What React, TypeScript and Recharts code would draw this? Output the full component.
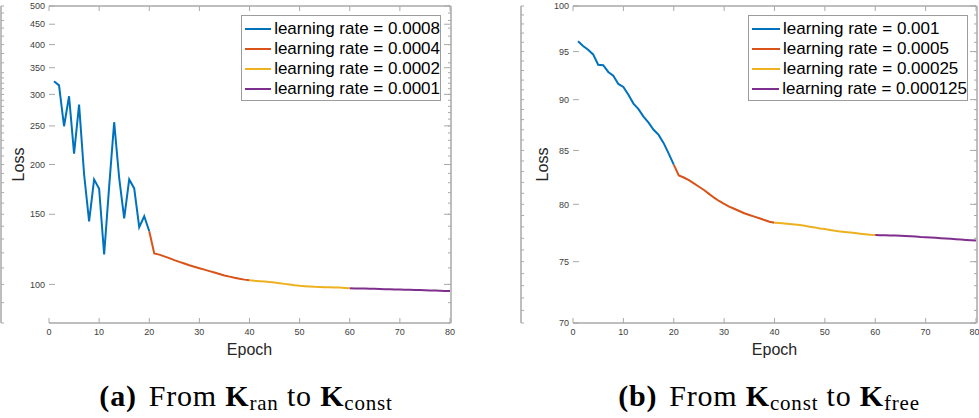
import React from 'react';
import { LineChart, Line, XAxis, YAxis, Legend, Label } from 'recharts';

// epochs and tick marks
const epochTicks = [0, 10, 20, 30, 40, 50, 60, 70, 80];
const lossTicksA = [100, 150, 200, 250, 300, 350, 400, 450, 500];
const lossTicksB = [70, 75, 80, 85, 90, 95, 100];

// (a) From K_ran to K_const  (log y axis)
const namesA = ['learning rate = 0.0008', 'learning rate = 0.0004', 'learning rate = 0.0002', 'learning rate = 0.0001'];
const lossA_lr0008 = [323.6, 316, 249.5, 296.7, 213, 282.8, 189, 144, 183.5, 173.9, 118.9, 176, 255.4, 185, 146.4, 183.5, 174.2, 139.2, 148.3, 136.0]; // epochs 1-20
const lossA_lr0004 = [136.0, 119.6, 118.8, 117.6, 116.4, 115.1, 113.9, 112.8, 111.7, 110.7, 109.8, 108.9, 108.0, 107.1, 106.2, 105.3, 104.6, 103.9, 103.3, 102.8, 102.4]; // epochs 20-40
const lossA_lr0002 = [102.4, 102.1, 101.9, 101.7, 101.4, 101.1, 100.7, 100.3, 99.9, 99.5, 99.2, 99.0, 98.8, 98.6, 98.5, 98.4, 98.3, 98.25, 98.2, 98.0, 97.8]; // epochs 40-60
const lossA_lr0001 = [97.8, 97.7, 97.65, 97.6, 97.5, 97.45, 97.4, 97.3, 97.25, 97.15, 97.05, 97.0, 96.9, 96.85, 96.8, 96.7, 96.6, 96.5, 96.4, 96.3, 96.2]; // epochs 60-80

// (b) From K_const to K_free  (log y axis)
const namesB = ['learning rate = 0.001', 'learning rate = 0.0005', 'learning rate = 0.00025', 'learning rate = 0.000125'];
const lossB_lr001 = [96.1, 95.6, 95.2, 94.7, 93.6, 93.55, 92.85, 92.45, 91.6, 91.3, 90.5, 89.6, 89.05, 88.3, 87.7, 87.0, 86.5, 85.7, 84.7, 83.65]; // epochs 1-20
const lossB_lr0005 = [83.65, 82.65, 82.45, 82.2, 81.9, 81.6, 81.3, 80.95, 80.6, 80.3, 80.05, 79.8, 79.6, 79.4, 79.2, 79.05, 78.9, 78.75, 78.6, 78.45, 78.35]; // epochs 20-40
const lossB_lr00025 = [78.35, 78.33, 78.3, 78.25, 78.2, 78.15, 78.1, 78.0, 77.95, 77.85, 77.8, 77.72, 77.65, 77.6, 77.55, 77.5, 77.45, 77.4, 77.35, 77.3, 77.28]; // epochs 40-60
const lossB_lr000125 = [77.28, 77.27, 77.26, 77.25, 77.24, 77.22, 77.2, 77.18, 77.15, 77.12, 77.1, 77.07, 77.04, 77.01, 76.98, 76.95, 76.92, 76.89, 76.86, 76.83, 76.8]; // epochs 60-80

const segmentStarts = [1, 20, 40, 60];
const colors = ['#0072BD', '#D95319', '#EDB120', '#7E2F8E'];

const range = (a: number, b: number, step: number) => {
    const out: number[] = [];
    for (let v = a; v <= b; v += step) out.push(v);
    return out;
};
const minorTicksA = range(80, 500, 10);
const minorTicksB = range(70, 100, 1);

const buildRows = (series: number[][]) =>
    range(1, 80, 1).map((epoch) => {
        const row: Record<string, number | null> = { epoch };
        series.forEach((vals, i) => {
            const idx = epoch - segmentStarts[i];
            row['s' + i] = idx >= 0 && idx < vals.length ? vals[idx] : null;
        });
        return row;
    });

const dataA = buildRows([lossA_lr0008, lossA_lr0004, lossA_lr0002, lossA_lr0001]);
const dataB = buildRows([lossB_lr001, lossB_lr0005, lossB_lr00025, lossB_lr000125]);

const axisColor = '#a9a9a9';
const tickFont = { fill: '#404040', fontSize: 9, fontFamily: 'Liberation Sans' };
const noLabel = () => '';

const LegendBox = ({ payload, width }: { payload?: any[]; width: number }) => (
    <div
        style={{
            width,
            boxSizing: 'border-box',
            border: '1px solid #9c9c9c',
            background: '#fff',
            padding: '3px 0 1px 0',
            fontFamily: 'Liberation Sans',
            fontSize: 17,
            color: '#000',
        }}
    >
        {(payload || []).map((p) => (
            <div key={p.value} style={{ display: 'flex', alignItems: 'center', height: 20 }}>
                <span style={{ display: 'inline-block', marginLeft: 3, width: 28, height: 2, background: p.color }} />
                <span style={{ marginLeft: 3, lineHeight: '20px', whiteSpace: 'nowrap' }}>{p.value}</span>
            </div>
        ))}
    </div>
);

interface PanelProps {
    data: Record<string, number | null>[];
    names: string[];
    domain: [number, number];
    majorTicks: number[];
    minorTicks: number[];
    left: number;
    width: number;
    yAxisWidth: number;
    marginRight: number;
    lossOffset: number;
    legendLeft: number;
    legendWidth: number;
}

// box axes (top / right) need 1px of room or recharts skips drawing them.
// the minor-tick axis is declared first so it sits right on the plot edge.
const Panel: React.FC<PanelProps> = (p) => (
    <div style={{ position: 'absolute', left: p.left, top: 0 }}>
        <LineChart width={p.width} height={360} data={p.data} margin={{ top: 5, right: p.marginRight, left: 0, bottom: 0 }}>
            <XAxis
                xAxisId="main"
                dataKey="epoch"
                type="number"
                domain={[0, 80]}
                ticks={epochTicks}
                height={37}
                tickSize={-5}
                tickMargin={11}
                tick={tickFont}
                axisLine={{ stroke: axisColor, strokeWidth: 1.5 }}
                tickLine={{ stroke: axisColor }}
            >
                <Label value="Epoch" position="insideBottom" offset={5} style={{ fill: '#262626', fontSize: 16, fontFamily: 'Liberation Sans' }} />
            </XAxis>
            <XAxis
                xAxisId="top"
                orientation="top"
                dataKey="epoch"
                type="number"
                domain={[0, 80]}
                ticks={epochTicks}
                height={1}
                tickSize={-5}
                tickFormatter={noLabel}
                axisLine={{ stroke: axisColor, strokeWidth: 1.5 }}
                tickLine={{ stroke: axisColor }}
            />
            <YAxis
                yAxisId="minor"
                scale="log"
                type="number"
                domain={p.domain}
                allowDataOverflow
                ticks={p.minorTicks}
                width={1}
                tickSize={-3}
                tickFormatter={noLabel}
                axisLine={{ stroke: axisColor, strokeWidth: 1.5 }}
                tickLine={{ stroke: axisColor }}
            />
            <YAxis
                yAxisId="main"
                scale="log"
                type="number"
                domain={p.domain}
                allowDataOverflow
                ticks={p.majorTicks}
                width={p.yAxisWidth}
                tickSize={-6}
                tickMargin={10}
                tick={tickFont}
                axisLine={false}
                tickLine={{ stroke: axisColor }}
            >
                <Label value="Loss" angle={-90} position="insideLeft" offset={p.lossOffset} style={{ textAnchor: 'middle', fill: '#262626', fontSize: 16, fontFamily: 'Liberation Sans' }} />
            </YAxis>
            <YAxis
                yAxisId="rightMinor"
                orientation="right"
                scale="log"
                type="number"
                domain={p.domain}
                allowDataOverflow
                ticks={p.minorTicks}
                width={1}
                tickSize={-3}
                tickFormatter={noLabel}
                axisLine={{ stroke: axisColor, strokeWidth: 1.5 }}
                tickLine={{ stroke: axisColor }}
            />
            <YAxis
                yAxisId="right"
                orientation="right"
                scale="log"
                type="number"
                domain={p.domain}
                allowDataOverflow
                ticks={p.majorTicks}
                width={1}
                tickSize={-6}
                tickFormatter={noLabel}
                axisLine={false}
                tickLine={{ stroke: axisColor }}
            />
            <Legend
                layout="vertical"
                align="center"
                verticalAlign="middle"
                itemSorter="dataKey"
                wrapperStyle={{ left: p.legendLeft, top: 15, width: p.legendWidth }}
                content={(props: any) => <LegendBox payload={props.payload} width={p.legendWidth} />}
            />
            {p.names.map((name, i) => (
                <Line
                    key={name}
                    xAxisId="main"
                    yAxisId="main"
                    type="linear"
                    dataKey={'s' + i}
                    name={name}
                    stroke={colors[i]}
                    strokeWidth={2}
                    dot={false}
                    activeDot={false}
                    isAnimationActive={false}
                />
            ))}
        </LineChart>
    </div>
);

const captionStyle: React.CSSProperties = {
    position: 'absolute',
    top: 381,
    width: 440,
    textAlign: 'center',
    fontFamily: 'Liberation Serif',
    fontSize: 30,
    letterSpacing: 0.8,
    lineHeight: '30px',
    color: '#000',
    whiteSpace: 'nowrap',
};
const subStyle: React.CSSProperties = { fontSize: '0.7em', verticalAlign: '-0.18em' };
const tagStyle: React.CSSProperties = { marginRight: 12 };

export default function App() {
    return (
        <div style={{ position: 'absolute', left: 0, top: 0, width: 979, height: 418, background: '#fff', overflow: 'hidden' }}>
            <Panel
                data={dataA}
                names={namesA}
                domain={[80, 500]}
                majorTicks={lossTicksA}
                minorTicks={minorTicksA}
                left={0}
                width={460}
                yAxisWidth={48}
                marginRight={8}
                lossOffset={17}
                legendLeft={241}
                legendWidth={200}
            />
            <Panel
                data={dataB}
                names={namesB}
                domain={[70, 100]}
                majorTicks={lossTicksB}
                minorTicks={minorTicksB}
                left={520}
                width={459}
                yAxisWidth={52}
                marginRight={1}
                lossOffset={21}
                legendLeft={228}
                legendWidth={220}
            />
            <div style={{ ...captionStyle, left: 246 - 220 }}>
                <b style={tagStyle}>(a)</b>From <b>K</b>
                <span style={subStyle}>ran</span> to <b>K</b>
                <span style={subStyle}>const</span>
            </div>
            <div style={{ ...captionStyle, left: 769 - 220 }}>
                <b style={tagStyle}>(b)</b>From <b>K</b>
                <span style={subStyle}>const</span> to <b>K</b>
                <span style={subStyle}>free</span>
            </div>
        </div>
    );
}
